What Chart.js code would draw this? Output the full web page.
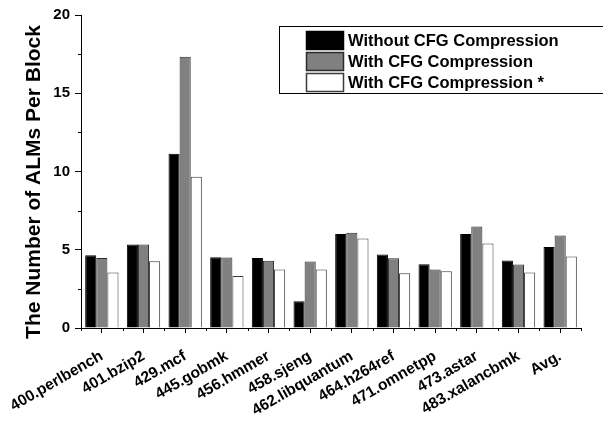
<!DOCTYPE html>
<html>
<head>
<meta charset="utf-8">
<script src="https://cdn.jsdelivr.net/npm/chart.js@4/dist/chart.umd.min.js"></script>
<style>
  html, body { margin: 0; padding: 0; background: #fff; }
  #wrap { width: 603px; height: 421px; }
</style>
</head>
<body>
<div id="wrap"><canvas id="c" width="603" height="421"></canvas></div>
<script>
// Benchmarks on the x axis
const categories = [
  '400.perlbench', '401.bzip2', '429.mcf', '445.gobmk', '456.hmmer', '458.sjeng',
  '462.libquantum', '464.h264ref', '471.omnetpp', '473.astar', '483.xalancbmk', 'Avg.'
];

// ALMs per block for each configuration
const withoutCompression = [4.65, 5.33, 11.13, 4.52, 4.48, 1.71, 6.01, 4.70, 4.08, 6.01, 4.31, 5.18];
const withCompression    = [4.48, 5.33, 17.34, 4.50, 4.29, 4.25, 6.08, 4.46, 3.74, 6.49, 4.06, 5.91];
const withCompressionStar = [3.54, 4.27, 9.66, 3.33, 3.74, 3.74, 5.72, 3.50, 3.63, 5.40, 3.54, 4.57];

const seriesNames = ['Without CFG Compression', 'With CFG Compression', 'With CFG Compression *'];
const yTicks = [0, 5, 10, 15, 20];
const yTitle = 'The Number of ALMs Per Block';

const FONT = '"Liberation Sans", Arial, Helvetica, sans-serif';

// Minor tick marks between categories and between major y ticks
const minorTicks = {
  id: 'minorTicks',
  afterDraw(chart) {
    const ctx = chart.ctx;
    const x = chart.scales.x, y = chart.scales.y;
    ctx.save();
    ctx.strokeStyle = '#000';
    ctx.lineWidth = 1;
    ctx.beginPath();
    for (let i = 0; i <= categories.length; i++) {
      const px = Math.round(x.getPixelForValue(i - 0.5)) + 0.5;
      ctx.moveTo(px, y.bottom);
      ctx.lineTo(px, y.bottom + 3);
    }
    for (let k = 0; k < yTicks.length - 1; k++) {
      const v = (yTicks[k] + yTicks[k + 1]) / 2;
      const py = Math.round(y.getPixelForValue(v)) + 0.5;
      ctx.moveTo(x.left - 3, py);
      ctx.lineTo(x.left, py);
    }
    ctx.stroke();
    ctx.restore();
  }
};

// Rotated y-axis title
const yAxisTitle = {
  id: 'yAxisTitle',
  afterDraw(chart) {
    const ctx = chart.ctx;
    ctx.save();
    ctx.translate(40, 182);
    ctx.rotate(-Math.PI / 2);
    ctx.font = 'bold 21px ' + FONT;
    ctx.fillStyle = '#000';
    ctx.textAlign = 'center';
    ctx.textBaseline = 'alphabetic';
    ctx.fillText(yTitle, 0, 0);
    ctx.restore();
  }
};

// Boxed legend in the upper right of the plot
const boxLegend = {
  id: 'boxLegend',
  afterDraw(chart) {
    const ctx = chart.ctx;
    const ds = chart.data.datasets;
    ctx.save();
    ctx.strokeStyle = '#000';
    ctx.lineWidth = 1;
    ctx.fillStyle = '#fff';
    ctx.fillRect(279.5, 26.5, 340, 67);
    ctx.strokeRect(279.5, 26.5, 340, 67);
    ctx.font = 'bold 16.5px ' + FONT;
    ctx.textBaseline = 'middle';
    ctx.textAlign = 'left';
    ds.forEach((d, i) => {
      const top = 31.5 + i * 21;
      ctx.fillStyle = d.backgroundColor;
      ctx.fillRect(306.5, top, 37, 18);
      ctx.strokeStyle = d.borderColor;
      ctx.lineWidth = 1.5;
      ctx.strokeRect(306.5, top, 37, 18);
      ctx.fillStyle = '#000';
      ctx.fillText(d.label, 348, top + 9.5);
    });
    ctx.restore();
  }
};

new Chart(document.getElementById('c'), {
  type: 'bar',
  data: {
    labels: categories,
    datasets: [
      { label: seriesNames[0], data: withoutCompression, backgroundColor: '#000000', borderColor: '#000000', borderWidth: 1 },
      { label: seriesNames[1], data: withCompression, backgroundColor: '#808080', borderColor: '#2a2a2a', borderWidth: 1 },
      { label: seriesNames[2], data: withCompressionStar, backgroundColor: '#ffffff', borderColor: '#3a3a3a', borderWidth: 1 }
    ]
  },
  options: {
    responsive: false,
    animation: false,
    devicePixelRatio: 1,
    layout: { padding: { top: 15, right: 22, left: 0, bottom: 0 } },
    datasets: { bar: { categoryPercentage: 0.8, barPercentage: 1.0 } },
    plugins: {
      legend: { display: false },
      tooltip: { enabled: false }
    },
    scales: {
      x: {
        offset: true,
        grid: { display: true, offset: false, drawOnChartArea: false, drawTicks: true, tickLength: 5, color: '#000', tickColor: '#000', tickWidth: 1 },
        border: { display: true, color: '#000', width: 1 },
        ticks: {
          color: '#000',
          font: { family: FONT, size: 15.5, weight: 'bold' },
          minRotation: 30,
          maxRotation: 30,
          padding: 14,
          autoSkip: false
        },
        afterFit(scale) {
          scale.height = 93;
          scale.paddingLeft = 0;
          scale.paddingRight = 0;
        }
      },
      y: {
        min: 0,
        max: 20,
        afterBuildTicks(scale) { scale.ticks = yTicks.map(v => ({ value: v })); },
        grid: { display: true, drawOnChartArea: false, drawTicks: true, tickLength: 6, color: '#000', tickColor: '#000', tickWidth: 1 },
        border: { display: true, color: '#000', width: 1 },
        ticks: {
          color: '#000',
          font: { family: FONT, size: 15, weight: 'bold' },
          padding: 5
        },
        afterFit(scale) { scale.width = 81; }
      }
    }
  },
  plugins: [minorTicks, yAxisTitle, boxLegend]
});
</script>
</body>
</html>
